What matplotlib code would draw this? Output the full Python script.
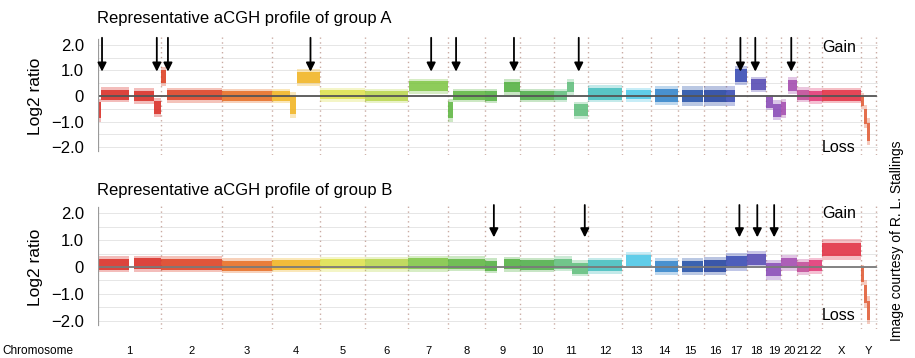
import numpy as np
import matplotlib
matplotlib.use('Agg')
import matplotlib.pyplot as plt
import matplotlib.transforms as mtransforms

plt.rcParams['font.family'] = ['Liberation Sans', 'DejaVu Sans']

# chromosome names and lengths (Mb)
chroms = ['1', '2', '3', '4', '5', '6', '7', '8', '9', '10', '11', '12', '13', '14',
          '15', '16', '17', '18', '19', '20', '21', '22', 'X', 'Y']
chrom_len = [249.3, 243.2, 198.0, 191.2, 180.9, 171.1, 159.1, 146.4, 141.2, 135.5,
             135.0, 133.9, 115.2, 107.3, 102.5, 90.4, 81.2, 78.1, 59.1, 63.0,
             48.1, 51.3, 155.3, 59.4]
chrom_col = ['#d8261e', '#dc3a1c', '#e6681c', '#f0b21c', '#dde048', '#b8d448',
             '#7cc440', '#5ab43c', '#4eae3c', '#4aac44', '#5cbc78', '#3ebcbc',
             '#46c6e6', '#2c80c8', '#1c4aa4', '#1c3c9c', '#3044b0', '#5044b0',
             '#8444b4', '#a044ac', '#c04494', '#e03070', '#e0283c', '#e05830']

# segments of group A: chromosome, start Mb, end Mb, log2 level, half spread
a_chr   = ['1', '1', '1', '1', '2', '2', '3', '4', '4', '4', '5', '6', '7', '8', '8',
           '9', '9', '10', '11', '11', '11', '12', '13', '14', '15', '16', '17', '17',
           '18', '19', '19', '20', '20', '21', '22', 'X', 'Y', 'Y', 'Y']
a_start = [0, 12, 142, 222, 0, 25, 0, 0, 72, 100, 0, 0, 5, 0, 20,
           0, 75, 0, 0, 50, 77, 0, 18, 18, 15, 0, 0, 36,
           15, 0, 25, 0, 25, 0, 0, 0, 0, 12, 24]
a_end   = [12, 125, 222, 249, 22, 243, 198, 72, 96, 191, 181, 171, 159, 20, 146,
           48, 141, 135, 50, 77, 135, 134, 115, 107, 102, 90, 36, 81,
           78, 25, 59, 20, 63, 48, 51, 155, 12, 24, 36]
a_level = [-0.55, 0.05, 0.0, -0.45, 0.75, 0.03, 0.0, 0.0, -0.35, 0.72, 0.05, 0.0, 0.38,
           -0.55, 0.02, 0.0, 0.35, 0.02, 0.02, 0.35, -0.55, 0.08, 0.05, 0.02, 0.0,
           0.0, 0.0, 0.8, 0.45, -0.25, -0.55, -0.5, 0.4, 0.05, 0.0, 0.02, -0.2, -0.8, -1.4]
a_spread = [0.3, 0.2, 0.2, 0.25, 0.25, 0.2, 0.18, 0.18, 0.35, 0.22, 0.18, 0.18, 0.2,
            0.3, 0.18, 0.18, 0.2, 0.18, 0.18, 0.2, 0.22, 0.22, 0.18, 0.25, 0.25,
            0.25, 0.25, 0.25, 0.2, 0.2, 0.25, 0.25, 0.22, 0.2, 0.2, 0.2, 0.2, 0.3, 0.35]

# segments of group B
b_chr   = ['1', '1', '2', '3', '4', '5', '6', '7', '8', '9', '9', '10', '11', '11',
           '12', '13', '14', '15', '16', '17', '18', '19', '20', '21', '22', 'X',
           'Y', 'Y', 'Y']
b_start = [0, 142, 0, 0, 0, 0, 0, 0, 0, 0, 75, 0, 0, 70,
           0, 18, 18, 15, 0, 0, 0, 0, 0, 0, 0, 0,
           0, 12, 24]
b_end   = [125, 249, 243, 198, 191, 181, 171, 159, 146, 48, 141, 135, 70, 135,
           134, 115, 107, 102, 90, 81, 78, 59, 63, 48, 51, 155,
           12, 24, 36]
b_level = [0.1, 0.12, 0.1, 0.05, 0.08, 0.1, 0.1, 0.12, 0.12, 0.05, 0.1, 0.08, 0.12,
           -0.05, 0.05, 0.25, 0.02, 0.02, 0.05, 0.2, 0.28, -0.1, 0.15, 0.0, 0.05,
           0.65, -0.3, -1.0, -1.6]
b_spread = [0.2, 0.2, 0.2, 0.18, 0.18, 0.18, 0.18, 0.2, 0.18, 0.18, 0.18, 0.18, 0.18,
            0.2, 0.2, 0.2, 0.2, 0.22, 0.22, 0.22, 0.22, 0.25, 0.2, 0.2, 0.2,
            0.25, 0.25, 0.35, 0.35]

# arrows: chromosome, Mb
a_arrow_chr = ['1', '1', '2', '4', '7', '8', '9', '11', '17', '18', '20']
a_arrow_mb  = [16, 234, 29, 155, 92, 32, 116, 97, 56, 34, 40]
b_arrow_chr = ['9', '11', '17', '18', '19']
b_arrow_mb  = [36, 121, 52, 42, 31]

yticks = [2.0, 1.0, 0, -1.0, -2.0]
ytick_labels = ['2.0', '1.0', '0', '\u22121.0', '\u22122.0']

offset = dict(zip(chroms, np.concatenate([[0], np.cumsum(chrom_len)[:-1]])))
colmap = dict(zip(chroms, chrom_col))
total = sum(chrom_len)

fig = plt.figure(figsize=(9.15, 3.58), dpi=100)
ax1 = fig.add_axes([98/915, 1-155/358, 780/915, 118/358])
ax2 = fig.add_axes([98/915, 1-329/358, 780/915, 124/358])


def draw_panel(ax, chr_, start, end, level, spread, arr_chr, arr_mb, zc, y_top, y_tip,
               gain_y, loss_y):
    for y in np.arange(-2.0, 2.01, 0.5):
        ax.axhline(y, color='#e6e6e6', lw=0.7, zorder=0)
    for c in chroms[1:]:
        ax.axvline(offset[c], color='#c9aaa2', lw=1.0, ls=(0, (1, 2.5)), zorder=1)
    ax.axvline(total, color='#c9aaa2', lw=1.0, ls=(0, (1, 2.5)), zorder=1)
    x0 = [offset[c] + s for c, s in zip(chr_, start)]
    w = [e - s for s, e in zip(start, end)]
    cols = [colmap[c] for c in chr_]
    # faint outer halo, then the dense core of each segment
    ax.bar(x0, [3 * s for s in spread], width=w,
           bottom=[l - 1.5 * s for l, s in zip(level, spread)], align='edge',
           color=cols, alpha=0.3, lw=0, zorder=2)
    ax.bar(x0, [2 * s for s in spread], width=w,
           bottom=[l - s for l, s in zip(level, spread)], align='edge',
           color=cols, alpha=0.8, lw=0, zorder=2)
    ax.plot([0, total], [0, 0], color=zc, lw=1.3, zorder=3)
    ax.plot([0, 0], [-2.15, 2.2], color='#9a9a9a', lw=1.6, zorder=3)
    for c, m in zip(arr_chr, arr_mb):
        ax.annotate('', xy=(offset[c] + m, y_tip), xytext=(offset[c] + m, y_top),
                    arrowprops=dict(arrowstyle='-|>', color='black', lw=1.3,
                                    mutation_scale=13, shrinkA=0, shrinkB=0), zorder=4)
    ax.set_xlim(0, total + 8)
    ax.set_ylim(-2.3, 2.3)
    ax.set_yticks(yticks)
    ax.set_yticklabels(ytick_labels, fontsize=12)
    ax.tick_params(axis='y', length=0, pad=10)
    ax.set_xticks([])
    for s in ax.spines.values():
        s.set_visible(False)
    ax.set_ylabel('Log2 ratio', fontsize=12.5, labelpad=6)
    ax.text(0.928, gain_y, 'Gain', transform=ax.transAxes, fontsize=11.5, va='center')
    ax.text(0.928, loss_y, 'Loss', transform=ax.transAxes, fontsize=11.5, va='center')


draw_panel(ax1, a_chr, a_start, a_end, a_level, a_spread, a_arrow_chr, a_arrow_mb,
           '#555555', 2.27, 0.95, 0.915, 0.06)
draw_panel(ax2, b_chr, b_start, b_end, b_level, b_spread, b_arrow_chr, b_arrow_mb,
           '#7a7a7a', 2.3, 1.1, 0.935, 0.105)

fig.text(97/915, 1-18/358, 'Representative aCGH profile of group A', fontsize=12, va='center')
fig.text(97/915, 1-190/358, 'Representative aCGH profile of group B', fontsize=12, va='center')

# chromosome labels under the lower panel
trans = mtransforms.blended_transform_factory(ax2.transData, fig.transFigure)
fig.text(2/915, 1-351/358, 'Chromosome', fontsize=8.5, va='center')
for c, L in zip(chroms, chrom_len):
    ax2.text(offset[c] + L/2, 1-351/358, c, transform=trans, fontsize=8,
             ha='center', va='center', clip_on=False)

fig.text(897/915, 1-241/358, 'Image courtesy of R. L. Stallings', rotation=90,
         fontsize=10, ha='center', va='center')

fig.savefig('out.png', dpi=100)
